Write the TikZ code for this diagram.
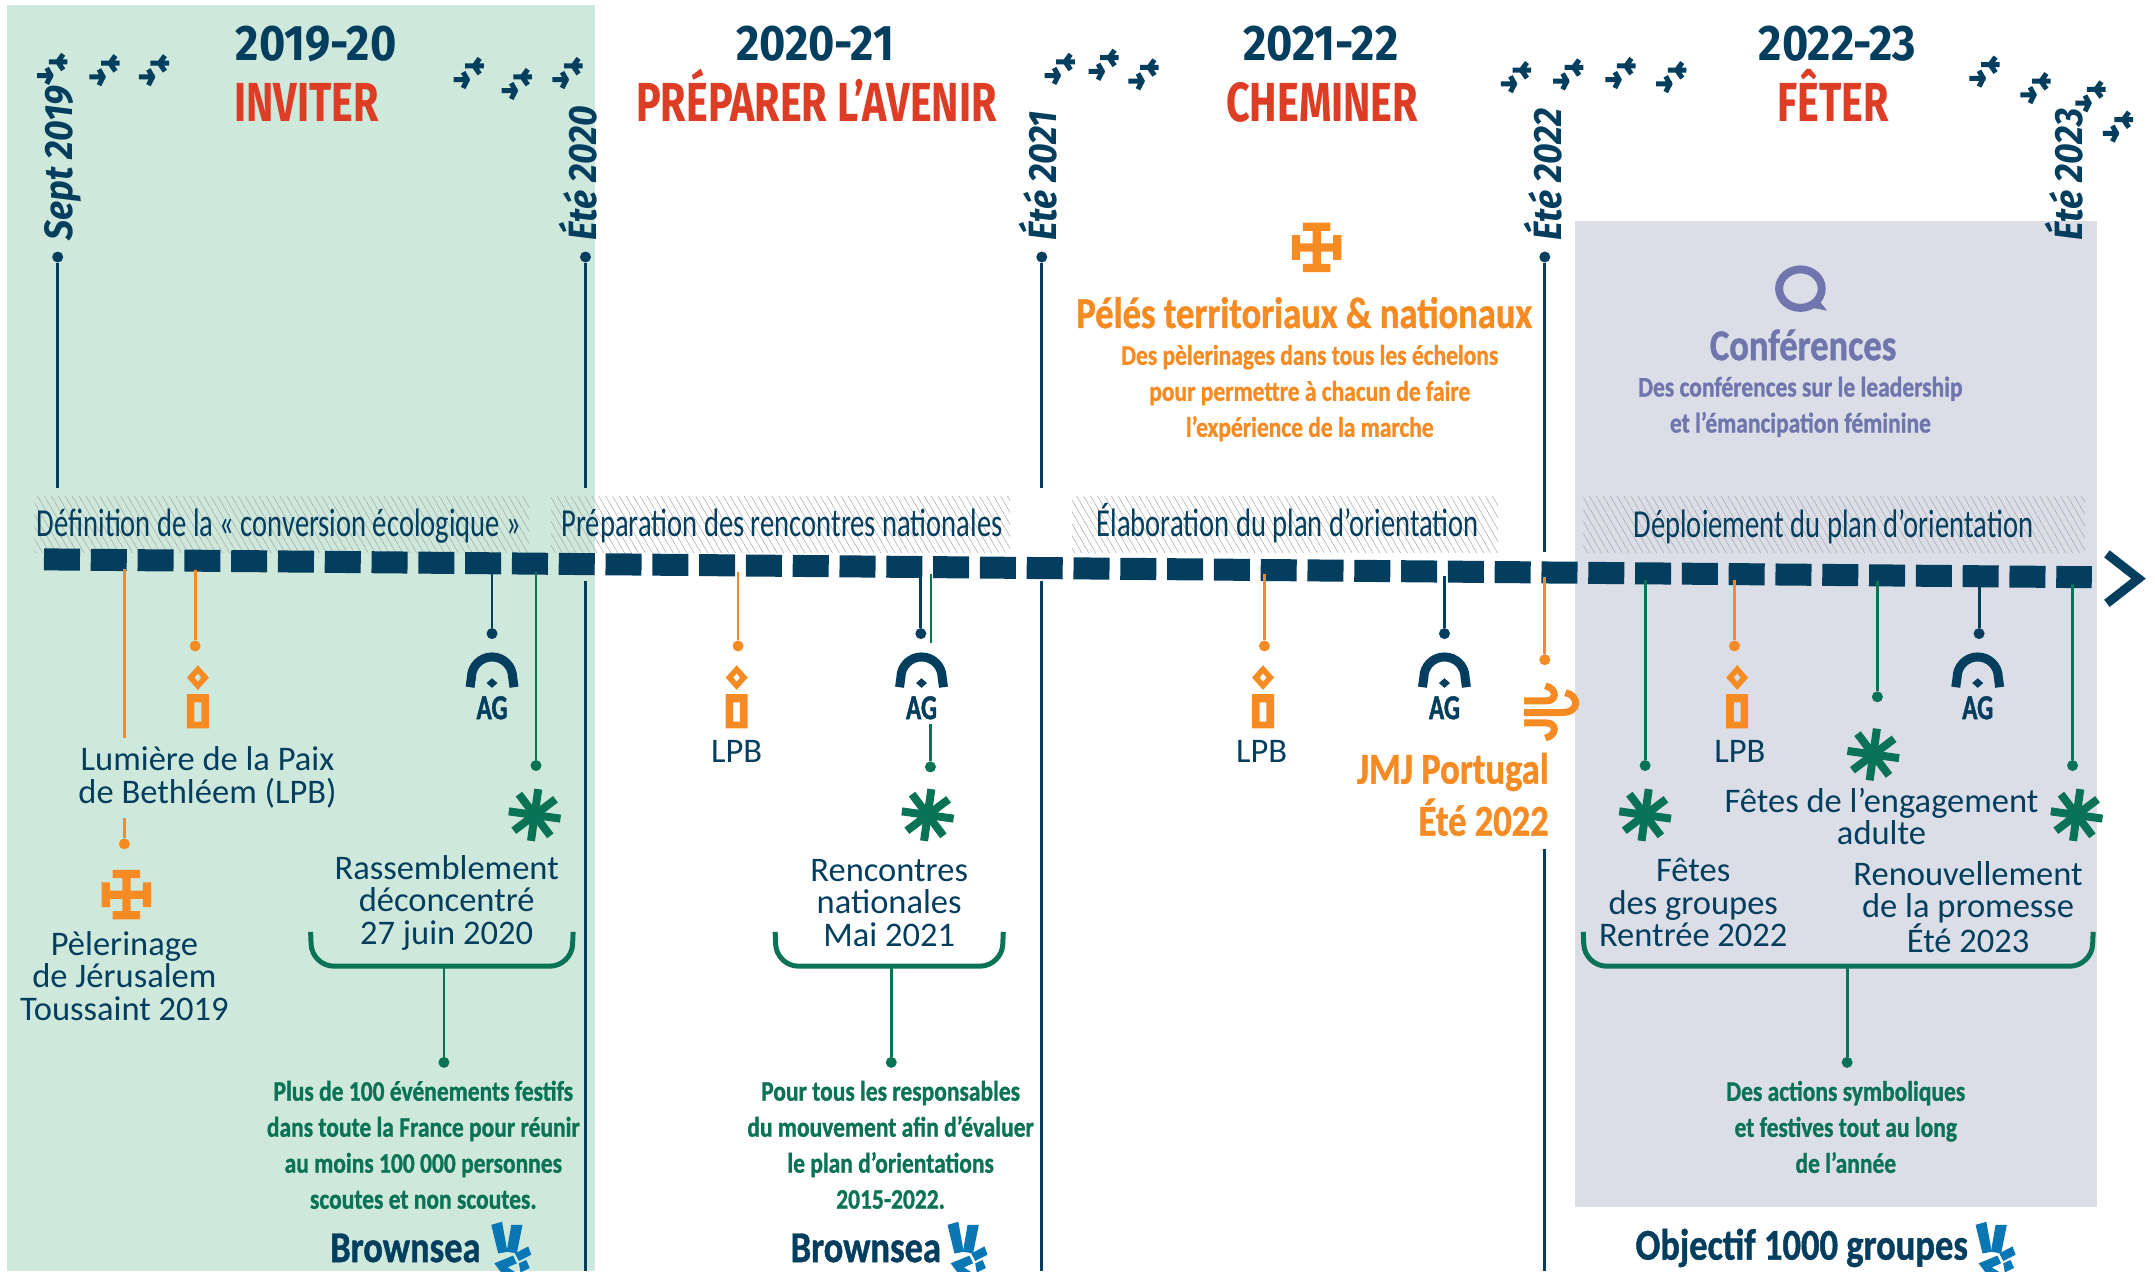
\documentclass[tikz,border=0pt]{standalone}
\usepackage{fontspec}
\setmainfont{Carlito}
\newfontfamily\fontcond{Carlito}[FakeStretch=0.72,BoldFeatures={FakeBold=1.2}]
\newfontfamily\fontdense{Carlito}[FakeStretch=0.83,BoldFeatures={FakeBold=1}]
\newfontfamily\fontrouge{Fira Sans}[FakeStretch=0.75]
\newfontfamily\fonttitre{Fira Sans}[FakeStretch=0.9]
\usetikzlibrary{patterns.meta}
\definecolor{marine}{HTML}{033E5F}
\definecolor{vert}{HTML}{0A7255}
\definecolor{orange}{HTML}{F68B23}
\definecolor{rouge}{HTML}{DC3D24}
\definecolor{mauve}{HTML}{6F75AD}
\definecolor{azur}{HTML}{0A77B5}
\definecolor{fondvert}{HTML}{CFE8DC}
\definecolor{fondgris}{HTML}{DBDEE6}
\tikzset{
	etoile/.pic={
		\draw[marine,line width=5pt] (-11,5)--(0.5,5) (-4,-0.5)--(-1,5)--(-4,11);
		\draw[marine,line width=5pt] (-2.5,-5)--(11,-5) (8,-10.5)--(4,-5)--(8,0.8);
	},
	bougie/.pic={
		\fill[orange,even odd rule] (0,-9)--(8,0)--(0,9)--(-8,0)--cycle (0,-3)--(2.5,0)--(0,3)--(-2.5,0)--cycle;
		\fill[orange,even odd rule] (-8,12) rectangle (8,37) (-2.5,18) rectangle (2.5,32);
	},
	voute/.pic={
		\draw[marine,line width=9pt] (-16,3)--(-15,-4) arc[start angle=180,end angle=360,radius=15] -- (16,3);
		\fill[marine] (0,-3.5)--(4,0)--(0,3.5)--(-4,0)--cycle;
	},
	croix/.pic={
		\fill[orange] (-10,-18) rectangle (10,-12) (-10,12) rectangle (10,18) (-3,-12) rectangle (3,12)
		(-18,-9) rectangle (-12,9) (12,-9) rectangle (18,9) (-12,-3) rectangle (12,3);
	},
	astre/.pic={
		\foreach \a in {8,53,98,143,188,233,278,323}{
			\draw[vert,line width=8pt] (0,0)--(\a:19);
		}
	},
	souffle/.pic={
		\draw[orange,line width=7pt] (-19,-8)--(-3,-8) .. controls (5,-8) and (5,-17) .. (-3.6,-19);
		\draw[orange,line width=7pt] (-19,0.5)--(8,0.5) .. controls (22,0.5) and (21,-12) .. (11,-14);
		\draw[orange,line width=7pt] (-19,8)--(-3,8) .. controls (5,8) and (5,17) .. (-3.6,19);
	},
	bulle/.pic={
		\draw[mauve,line width=8pt] (0,0) ellipse[x radius=15.5,y radius=14];
		\fill[mauve] (12,7)--(19.5,16)--(6,13.5)--cycle;
	},
	main/.pic={
		\fill[azur] (-13,-15)--(-6,-17)--(-2.5,2.5)--(-8.5,3.6)--cycle;
		\fill[azur] (0,-15)--(7.3,-15)--(3.6,3.6)--(-3,2.4)--cycle;
		\fill[azur] (2.4,3.6)--(11,-1)--(13,4.4)--(5,8.5)--cycle;
		\fill[azur] (5,10)--(9.7,7.8)--(12,13)--(6,16)--cycle;
		\fill[azur] (-11,10)--(1.2,5)--(3.6,10)--(-2.4,12.6)--(6,18)--(-5,18)--cycle;
	}
}
\begin{document}
\begin{tikzpicture}[x=1.3744pt,y=-1.3744pt]
	\tikzstyle{pastille} = [circle,inner sep=0pt,minimum size=11pt];
	\tikzstyle{lien} = [line width=2.8pt];
	\tikzstyle{hachure} = [pattern={Lines[angle=-60,distance=6pt,line width=0.5pt]},pattern color=gray!70];
	\tikzstyle{annee} = [inner sep=0pt,marine,anchor=base,font=\fonttitre\bfseries\fontsize{50}{50}\selectfont];
	\tikzstyle{action} = [inner sep=0pt,rouge,anchor=base,font=\fontrouge\bfseries\fontsize{55}{55}\selectfont];
	\tikzstyle{date} = [inner sep=0pt,marine,rotate=90,anchor=west,font=\fonttitre\bfseries\itshape\fontsize{39.5}{39.5}\selectfont];
	\tikzstyle{phase} = [inner sep=0pt,marine,font=\fontcond\fontsize{39.7}{40}\selectfont];
	\tikzstyle{texte} = [inner sep=0pt,marine,align=center,font=\fontsize{34.5}{32.5}\selectfont];
	\tikzstyle{petit} = [inner sep=0pt,align=center,font=\fontdense\bfseries\fontsize{28.3}{36}\selectfont];
	\tikzstyle{grand} = [inner sep=0pt,align=center,font=\fontdense\bfseries\fontsize{44}{52}\selectfont];
	\tikzstyle{sigle} = [inner sep=0pt,marine,font=\fontcond\bfseries\fontsize{35}{35}\selectfont];
	\tikzstyle{accolade} = [vert,line width=5pt,rounded corners=22pt];
	
	\useasboundingbox (0,0) rectangle (1568,924.8);
	\clip (0,0) rectangle (1568,924.8);
	
	% fonds
	\fill[fondvert] (5,4) rectangle (433,925);
	\fill[fondgris] (1146,161) rectangle (1526,878);
	
	% hachures
	\foreach \xa/\ya/\xb in {25/361/385,401/361/735,780/361/1090,1152/361/1517}{
		\fill[hachure] (\xa,\ya) rectangle (\xb,402);
	}
	
	% etoiles
	\foreach \x/\y in {38/50,76/51,112/51,341/53,376/61,413/53,771/50,803/47,832/54,1103/56,1141/54,1179/53,1216/56,1444/52,1481/64,1521/70,1541/92}{
		\pic at (\x,\y) {etoile};
	}
	
	% titres
	\foreach \nom/\x/\xr/\an/\act in {inviter/230/223/2019-20/INVITER,preparer/593/594/2020-21/PRÉPARER L’AVENIR,cheminer/961/962/2021-22/CHEMINER,feter/1337/1334/2022-23/FÊTER}{
		\node[annee] (an\nom) at (\x,44) {\an};
		\node[action] (act\nom) at (\xr,88.5) {\act};
	}
	
	% dates et verticales
	\node[date] (sept) at (46,175) {Sept 2019};
	\node[date] (ete20) at (420.5,175) {Été 2020};
	\node[date] (ete21) at (755.5,175) {Été 2021};
	\node[date] (ete22) at (1122.5,175) {Été 2022};
	\node[date] (ete23) at (1501.5,175) {Été 2023};
	\foreach \nom/\x/\yb in {a/42/355,b/426/355,c/758/355,d/1124/402}{
		\node[pastille,fill=marine] (haut\nom) at (\x,187) {};
		\coordinate (bas\nom) at (\x,\yb);
		\draw[lien,marine] (haut\nom) -- (bas\nom);
	}
	\foreach \nom/\x/\ya in {b/426/423,c/758/423,d/1124/618}{
		\coordinate (suite\nom) at (\x,\ya);
		\coordinate (pied\nom) at (\x,925);
		\draw[lien,marine] (suite\nom) -- (pied\nom);
	}
	
	% frise
	\coordinate (debut) at (32,407);
	\coordinate (fin) at (1522,420);
	\draw[marine,line width=22pt,dash pattern=on 36pt off 10.8pt] (debut) -- (fin);
	\coordinate (chevA) at (1533,403);
	\coordinate (chevB) at (1556,421);
	\coordinate (chevC) at (1533,439);
	\draw[marine,line width=9pt] (chevA) -- (chevB) -- (chevC);
	
	% phases
	\node[phase] (ph1) at (203,382.5) {Définition de la « conversion écologique »};
	\node[phase] (ph2) at (569,382.5) {Préparation des rencontres nationales};
	\node[phase] (ph3) at (937,380.5) {Élaboration du plan d’orientation};
	\node[phase] (ph4) at (1334,383.5) {Déploiement du plan d’orientation};
	
	% liens
	\foreach \nom/\x/\ya/\yb/\coul in {p1/142/415/470/orange,p2/358/416/461/marine,p3/390/416/557/vert,p4/537/416/470/orange,p5/670/418/461/marine,p6/920/418/470/orange,p7/1051/419/461/marine,p8/1124/420/480/orange,p9/1197/422/557/vert,p10/1262/422/470/orange,p11/1366/423/507/vert,p12/1440/424/461/marine,p13/1508/425/557/vert,p14/677/527/558/vert,p15/90.5/595/614/orange}{
		\coordinate (lien\nom) at (\x,\ya);
		\node[pastille,fill=\coul] (pt\nom) at (\x,\yb) {};
		\draw[lien,\coul] (lien\nom) -- (pt\nom);
	}
	\coordinate (lhA) at (90.5,414);
	\coordinate (lbA) at (90.5,537);
	\draw[lien,orange] (lhA) -- (lbA);
	\coordinate (lhB) at (677.4,418);
	\coordinate (lbB) at (677.4,468);
	\draw[lien,vert] (lhB) -- (lbB);
	
	% icones
	\foreach \x/\y in {144/493,536/493,919/493,1264/493}{
		\pic at (\x,\y) {bougie};
	}
	\foreach \x in {358,670.5,1051,1439}{
		\pic at (\x,497) {voute};
		\node[sigle] (ag\x) at (\x,515) {AG};
	}
	\foreach \x/\y in {389/593,675/593,1197/593,1363/549,1511/593}{
		\pic at (\x,\y) {astre};
	}
	\pic at (92,651) {croix};
	\pic at (958,180) {croix};
	\pic at (1128,518) {souffle};
	\pic at (1310,210) {bulle};
	\pic[scale=1.12] at (372,908) {main};
	\pic[scale=1.12] at (704,908) {main};
	\pic[scale=1.12] at (1452,908) {main};
	
	% textes
	\node[texte] (lumiere) at (151,565.5) {Lumière de la Paix\\de Bethléem (LPB)};
	\node[texte] (pelerinage) at (90.5,710) {Pèlerinage\\de Jérusalem\\Toussaint 2019};
	\node[texte] (lpbA) at (536,547) {LPB};
	\node[texte] (lpbB) at (918,547) {LPB};
	\node[texte] (lpbC) at (1266,547) {LPB};
	\node[texte] (rassemblement) at (325,657) {Rassemblement\\déconcentré\\27 juin 2020};
	\node[texte] (rencontres) at (647,657) {Rencontres\\nationales\\Mai 2021};
	\node[texte] (groupes) at (1232,657) {Fêtes\\des groupes\\Rentrée 2022};
	\node[texte] (engagement) at (1369,594) {Fêtes de l’engagement\\adulte};
	\node[texte] (promesse) at (1432,660) {Renouvellement\\de la promesse\\Été 2023};
	
	\node[grand,orange] (peles) at (949,227.5) {Pélés territoriaux \& nationaux};
	\node[petit,orange] (pelesdet) at (953,286) {Des pèlerinages dans tous les échelons\\pour permettre à chacun de faire\\l’expérience de la marche};
	\node[grand,mauve] (conf) at (1312,251) {Conférences};
	\node[petit,mauve] (confdet) at (1310,296) {Des conférences sur le leadership\\et l’émancipation féminine};
	\node[grand,orange,align=right,anchor=east] (jmj) at (1127,578) {JMJ Portugal\\Été 2022};
	
	% accolades
	\foreach \nom/\xa/\xb/\xc/\yc in {A/226/417/323/773,B/564/730/648.5/773,C/1152/1523/1344/773}{
		\coordinate (acg\nom) at (\xa,678);
		\coordinate (acd\nom) at (\xb,678);
		\coordinate (tige\nom) at (\xc,703);
		\node[pastille,fill=vert] (fin\nom) at (\xc,\yc) {};
		\draw[accolade] (acg\nom) -- (\xa+1,703) -- (\xb-1,703) -- (acd\nom);
		\draw[lien,vert] (tige\nom) -- (fin\nom);
	}
	\node[petit,vert] (detA) at (308,833) {Plus de 100 événements festifs\\dans toute la France pour réunir\\au moins 100 000 personnes\\scoutes et non scoutes.};
	\node[petit,vert] (detB) at (648,833) {Pour tous les responsables\\du mouvement afin d’évaluer\\le plan d’orientations\\2015-2022.};
	\node[petit,vert] (detC) at (1343,820) {Des actions symboliques\\et festives tout au long\\de l’année};
	
	\node[grand,marine] (brownA) at (295,908) {Brownsea};
	\node[grand,marine] (brownB) at (630,908) {Brownsea};
	\node[grand,marine] (objectif) at (1311,908) {Objectif 1000 groupes};
\end{tikzpicture}
\end{document}
